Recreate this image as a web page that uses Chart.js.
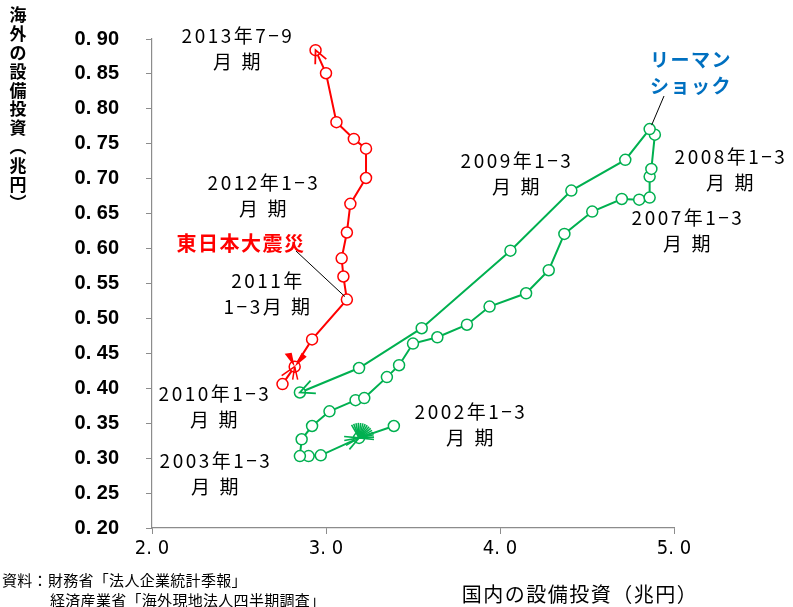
<!DOCTYPE html>
<html>
<head>
<meta charset="utf-8">
<script src="https://cdn.jsdelivr.net/npm/chart.js@4"></script>
<style>
  body { margin: 0; background: #fff; }
  #wrap { width: 793px; height: 607px; position: relative; }
</style>
</head>
<body>
<div id="wrap"><canvas id="chart" width="793" height="607"></canvas></div>
<script>
// domestic (x) vs overseas (y) capital investment, trillion yen, quarterly
// green: 2002 Q1 - 2010 Q1
const greenX = [3.39, 3.19, 2.97, 2.90, 2.85, 2.86, 2.92, 3.02, 3.17, 3.22, 3.35, 3.42, 3.50,
                3.64, 3.81, 3.94, 4.15, 4.28, 4.37, 4.53, 4.70, 4.80, 4.86, 4.86, 4.87, 4.89,
                4.86, 4.72, 4.41, 4.06, 3.55, 3.19, 2.85];
const greenY = [0.346, 0.329, 0.304, 0.303, 0.303, 0.327, 0.346, 0.367, 0.383, 0.386, 0.416, 0.433, 0.464,
                0.473, 0.491, 0.517, 0.536, 0.569, 0.621, 0.653, 0.671, 0.670, 0.673, 0.703, 0.714, 0.763,
                0.771, 0.727, 0.683, 0.597, 0.486, 0.429, 0.394];
// red: 2010 Q2 - 2013 Q3
const redX = [2.75, 2.82, 2.92, 3.12, 3.10, 3.09, 3.12, 3.14, 3.23, 3.23, 3.16, 3.06, 3.00, 2.94];
const redY = [0.406, 0.431, 0.470, 0.527, 0.560, 0.586, 0.623, 0.664, 0.701, 0.743, 0.757, 0.781, 0.851, 0.884];

const xTicks = [2, 3, 4, 5];
const yTicks = [0.20, 0.25, 0.30, 0.35, 0.40, 0.45, 0.50, 0.55, 0.60, 0.65, 0.70, 0.75, 0.80, 0.85, 0.90];

const GREEN = '#00B050';
const RED = '#FF0000';
const BLUE = '#0070C0';
const JP = '"Noto Sans CJK JP", "Noto Sans", sans-serif';

function toPoints(xs, ys){
    const out = [];
    for(let i = 0; i < xs.length; i++){
        out.push({x: xs[i], y: ys[i]});
    }
    return out;
}

//text annotations, pixel positions of line centres
const notes = [
    {lines: ['2013年7−9', '月 期'], x: 238, y: 36},
    {lines: ['2012年1−3', '月 期'], x: 264, y: 183},
    {lines: ['東日本大震災'], x: 241, y: 243, color: RED, bold: true, size: 20},
    {lines: ['2011年', '1−3月 期'], x: 268, y: 281},
    {lines: ['2010年1−3', '月 期'], x: 215, y: 394},
    {lines: ['2003年1−3', '月 期'], x: 216, y: 461},
    {lines: ['2002年1−3', '月 期'], x: 471, y: 412},
    {lines: ['2009年1−3', '月 期'], x: 517, y: 161},
    {lines: ['2008年1−3', '月 期'], x: 731, y: 157},
    {lines: ['2007年1−3', '月 期'], x: 688, y: 218},
    {lines: ['リーマン', 'ショック'], x: 691, y: 60, color: BLUE, bold: true, size: 19}
];

function arrowHead(ctx, from, to, color, len){
    const a = Math.atan2(to.y - from.y, to.x - from.x);
    ctx.strokeStyle = color;
    ctx.lineWidth = 1.8;
    ctx.beginPath();
    ctx.moveTo(to.x - len * Math.cos(a - 0.45), to.y - len * Math.sin(a - 0.45));
    ctx.lineTo(to.x, to.y);
    ctx.lineTo(to.x - len * Math.cos(a + 0.45), to.y - len * Math.sin(a + 0.45));
    ctx.stroke();
}

const overlay = {
    id: 'overlay',
    afterDraw(chart){
        const ctx = chart.ctx;
        const xs = chart.scales.x, ys = chart.scales.y;
        const px = (arrX, arrY, i) => ({x: xs.getPixelForValue(arrX[i]), y: ys.getPixelForValue(arrY[i])});
        ctx.save();

        //end arrows
        const gn = greenX.length;
        arrowHead(ctx, px(greenX, greenY, gn - 2), px(greenX, greenY, gn - 1), GREEN, 16);
        const rn = redX.length;
        arrowHead(ctx, px(redX, redY, rn - 2), px(redX, redY, rn - 1), RED, 14);

        //the smudged start arrows
        const g1 = px(greenX, greenY, 1);
        ctx.strokeStyle = GREEN;
        ctx.lineWidth = 1.6;
        for(let d = -120; d <= 10; d += 9){
            const r = d * Math.PI / 180;
            ctx.beginPath();
            ctx.moveTo(g1.x, g1.y);
            ctx.lineTo(g1.x + 15 * Math.cos(r), g1.y + 15 * Math.sin(r));
            ctx.stroke();
        }
        [170, 185, 150, 130].forEach((d) => {
            const r = d * Math.PI / 180;
            ctx.beginPath();
            ctx.moveTo(g1.x, g1.y);
            ctx.lineTo(g1.x + 15 * Math.cos(r), g1.y + 15 * Math.sin(r));
            ctx.stroke();
        });
        const r1 = px(redX, redY, 1);
        ctx.fillStyle = RED;
        ctx.beginPath();
        ctx.moveTo(r1.x, r1.y);
        ctx.lineTo(r1.x - 10, r1.y - 13);
        ctx.lineTo(r1.x - 3, r1.y - 14);
        ctx.closePath();
        ctx.fill();
        ctx.beginPath();
        ctx.moveTo(r1.x, r1.y);
        ctx.lineTo(r1.x + 12, r1.y - 10);
        ctx.lineTo(r1.x + 7, r1.y - 14);
        ctx.closePath();
        ctx.fill();
        ctx.strokeStyle = RED;
        ctx.lineWidth = 1.5;
        [[-13, 9], [-2, 13], [3, 13]].forEach((v) => {
            ctx.beginPath();
            ctx.moveTo(r1.x, r1.y);
            ctx.lineTo(r1.x + v[0], r1.y + v[1]);
            ctx.stroke();
        });

        //leader lines
        ctx.strokeStyle = '#000';
        ctx.lineWidth = 1;
        const quake = px(redX, redY, 3);
        ctx.beginPath();
        ctx.moveTo(296, 251);
        ctx.lineTo(quake.x - 2, quake.y - 3);
        ctx.stroke();
        const lehman = px(greenX, greenY, 26);
        ctx.beginPath();
        ctx.moveTo(664, 96);
        ctx.lineTo(lehman.x + 2, lehman.y - 4);
        ctx.stroke();

        //annotation text
        ctx.textAlign = 'center';
        ctx.textBaseline = 'middle';
        notes.forEach((n) => {
            const size = n.size || 19;
            ctx.font = (n.bold ? 'bold ' : '') + size + 'px ' + JP;
            ctx.fillStyle = n.color || '#000';
            ctx.letterSpacing = n.bold ? '1.5px' : '2.5px';
            n.lines.forEach((t, i) => {
                ctx.fillText(t, n.x, n.y + i * 26);
            });
        });
        ctx.letterSpacing = '0px';

        //vertical y-axis title
        ctx.font = 'bold 17px ' + JP;
        ctx.fillStyle = '#000';
        const title = '海外の設備投資︵兆円︶';
        for(let i = 0; i < title.length; i++){
            ctx.fillText(title[i], 18, 15 + i * 18.8);
        }

        //x-axis title and source
        ctx.font = '20px ' + JP;
        ctx.letterSpacing = '1.5px';
        ctx.fillText('国内の設備投資（兆円）', 580, 594);
        ctx.textAlign = 'left';
        ctx.font = '15px ' + JP;
        ctx.letterSpacing = '0.3px';
        ctx.fillText('資料：財務省「法人企業統計季報」', 2, 580);
        ctx.fillText('経済産業省「海外現地法人四半期調査」', 50, 600);
        ctx.restore();
    }
};

const seriesStyle = (color) => ({
    showLine: true,
    borderColor: color,
    borderWidth: 2,
    pointRadius: 5.5,
    pointBorderWidth: 1.5,
    pointBackgroundColor: '#fff',
    pointBorderColor: color,
    pointHoverRadius: 5.5
});

const chart = new Chart('chart', {
    type: 'scatter',
    data: {
        datasets: [
            Object.assign({label: 'green', data: toPoints(greenX, greenY)}, seriesStyle(GREEN)),
            Object.assign({label: 'red', data: toPoints(redX, redY)}, seriesStyle(RED))
        ]
    },
    options: {
        responsive: false,
        animation: false,
        clip: false,
        layout: {padding: {left: 0, top: 38, right: 119, bottom: 0}},
        plugins: {legend: {display: false}, tooltip: {enabled: false}},
        scales: {
            x: {
                type: 'linear',
                min: 2, max: 5,
                afterBuildTicks: (scale) => { scale.ticks = xTicks.map((v) => ({value: v})); },
                afterFit: (scale) => { scale.height = 79; },
                grid: {display: true, drawOnChartArea: false, drawTicks: true, tickLength: 6, color: '#8c8c8c'},
                border: {color: '#8c8c8c', width: 1.2},
                ticks: {
                    padding: 3,
                    color: '#000',
                    font: {family: '"DejaVu Sans Condensed", "Liberation Sans Narrow", sans-serif', size: 20},
                    callback: (v) => v.toFixed(1).replace('.', '. ')
                }
            },
            y: {
                type: 'linear',
                min: 0.2, max: 0.9,
                afterBuildTicks: (scale) => { scale.ticks = yTicks.map((v) => ({value: v})); },
                afterFit: (scale) => { scale.width = 152; },
                grid: {display: true, drawOnChartArea: false, drawTicks: true, tickLength: 6, color: '#8c8c8c'},
                border: {color: '#8c8c8c', width: 1.2},
                ticks: {
                    padding: 27,
                    color: '#000',
                    font: {family: '"Liberation Sans", Arial, sans-serif', size: 20, weight: 'bold'},
                    callback: (v) => v.toFixed(2).replace('.', '. ')
                }
            }
        }
    },
    plugins: [overlay]
});
</script>
</body>
</html>
